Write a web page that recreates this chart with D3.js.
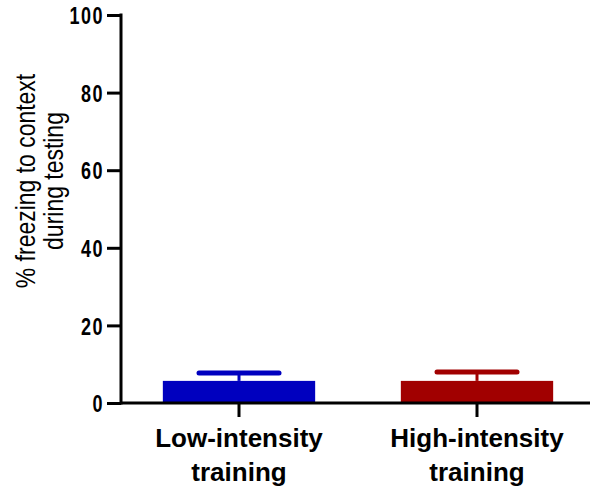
<!DOCTYPE html>
<html>
<head>
<meta charset="utf-8">
<script src="https://cdn.jsdelivr.net/npm/d3@7"></script>
<style>
    body { margin: 0; background: #fff; }
    svg { display: block; }
</style>
</head>
<body>
<div id="chart"></div>
<script>
// Chart data
const groups = ["Low-intensity training", "High-intensity training"];
const means = [5.7, 5.7];
const upperErr = [7.7, 8.0];
const barColors = ["#0000bf", "#a10000"];
const yTicks = [0, 20, 40, 60, 80, 100];

const width = 592;
const height = 492;

const svg = d3.select("#chart")
    .append("svg")
    .attr("width", width)
    .attr("height", height);

const y = d3.scaleLinear()
    .domain([0, 100])
    .range([403, 15]);

const x = d3.scaleBand()
    .domain(groups)
    .range([120, 596])
    .padding(0);

const barW = x.bandwidth() * 0.64;
const capW = 84;

// Bars
svg.selectAll("rect.bar")
    .data(groups)
    .join("rect")
    .attr("class", "bar")
    .attr("x", d => x(d) + x.bandwidth() / 2 - barW / 2)
    .attr("width", barW)
    .attr("y", (d, i) => y(means[i]))
    .attr("height", (d, i) => y(0) - y(means[i]))
    .attr("fill", (d, i) => barColors[i]);

// Error bars (upper only)
groups.forEach((g, i) => {
    const cx = x(g) + x.bandwidth() / 2;
    svg.append("line")
        .attr("x1", cx).attr("x2", cx)
        .attr("y1", y(means[i])).attr("y2", y(upperErr[i]))
        .attr("stroke", barColors[i])
        .attr("stroke-width", 3);
    svg.append("line")
        .attr("x1", cx - capW / 2 + 2).attr("x2", cx + capW / 2 - 2)
        .attr("y1", y(upperErr[i])).attr("y2", y(upperErr[i]))
        .attr("stroke", barColors[i])
        .attr("stroke-width", 5)
        .attr("stroke-linecap", "round");
});

// Y axis
const yAxis = svg.append("g")
    .attr("transform", "translate(121,0)")
    .call(d3.axisLeft(y).tickValues(yTicks).tickSize(14).tickPadding(4).tickSizeOuter(0));
yAxis.select(".domain").attr("stroke", "#000").attr("stroke-width", 3)
    .attr("d", `M0,${y(100) - 1.5}V${y(0) + 1.5}`);
yAxis.selectAll(".tick line").attr("stroke", "#000").attr("stroke-width", 3);
// condensed bold digits, squeezed horizontally
yAxis.selectAll(".tick text")
    .attr("x", 0)
    .attr("dy", "0.36em")
    .attr("transform", "translate(-17,0) scale(0.75,1)")
    .attr("fill", "#000")
    .style("font-family", "'Liberation Sans', Arial, sans-serif")
    .style("font-weight", "bold")
    .style("font-size", "24px")
    .style("letter-spacing", "2px");

// X axis
const xAxis = svg.append("g")
    .attr("transform", "translate(0,403)")
    .call(d3.axisBottom(x).tickSize(14).tickFormat("").tickSizeOuter(0));
xAxis.select(".domain").attr("stroke", "#000").attr("stroke-width", 3)
    .attr("d", "M120,0H590");
xAxis.selectAll(".tick line").attr("stroke", "#000").attr("stroke-width", 3);

// X category labels, two lines each
groups.forEach(g => {
    const words = g.split(" ");
    const t = svg.append("text")
        .attr("text-anchor", "middle")
        .style("font-family", "'Liberation Sans', Arial, sans-serif")
        .style("font-weight", "bold")
        .style("font-size", "26px")
        .attr("fill", "#000");
    words.forEach((w, k) => {
        t.append("tspan")
            .attr("x", x(g) + x.bandwidth() / 2)
            .attr("y", 447 + k * 34)
            .text(w);
    });
});

// Y axis title
const yTitle = svg.append("text")
    .attr("transform", "translate(0,181) rotate(-90) scale(0.82,1)")
    .attr("text-anchor", "middle")
    .style("font-family", "'Liberation Sans', Arial, sans-serif")
    .style("font-size", "28px")
    .attr("fill", "#000");
yTitle.append("tspan").attr("x", 0).attr("y", 35).text("% freezing to context");
yTitle.append("tspan").attr("x", 0).attr("y", 63).text("during testing");
</script>
</body>
</html>
